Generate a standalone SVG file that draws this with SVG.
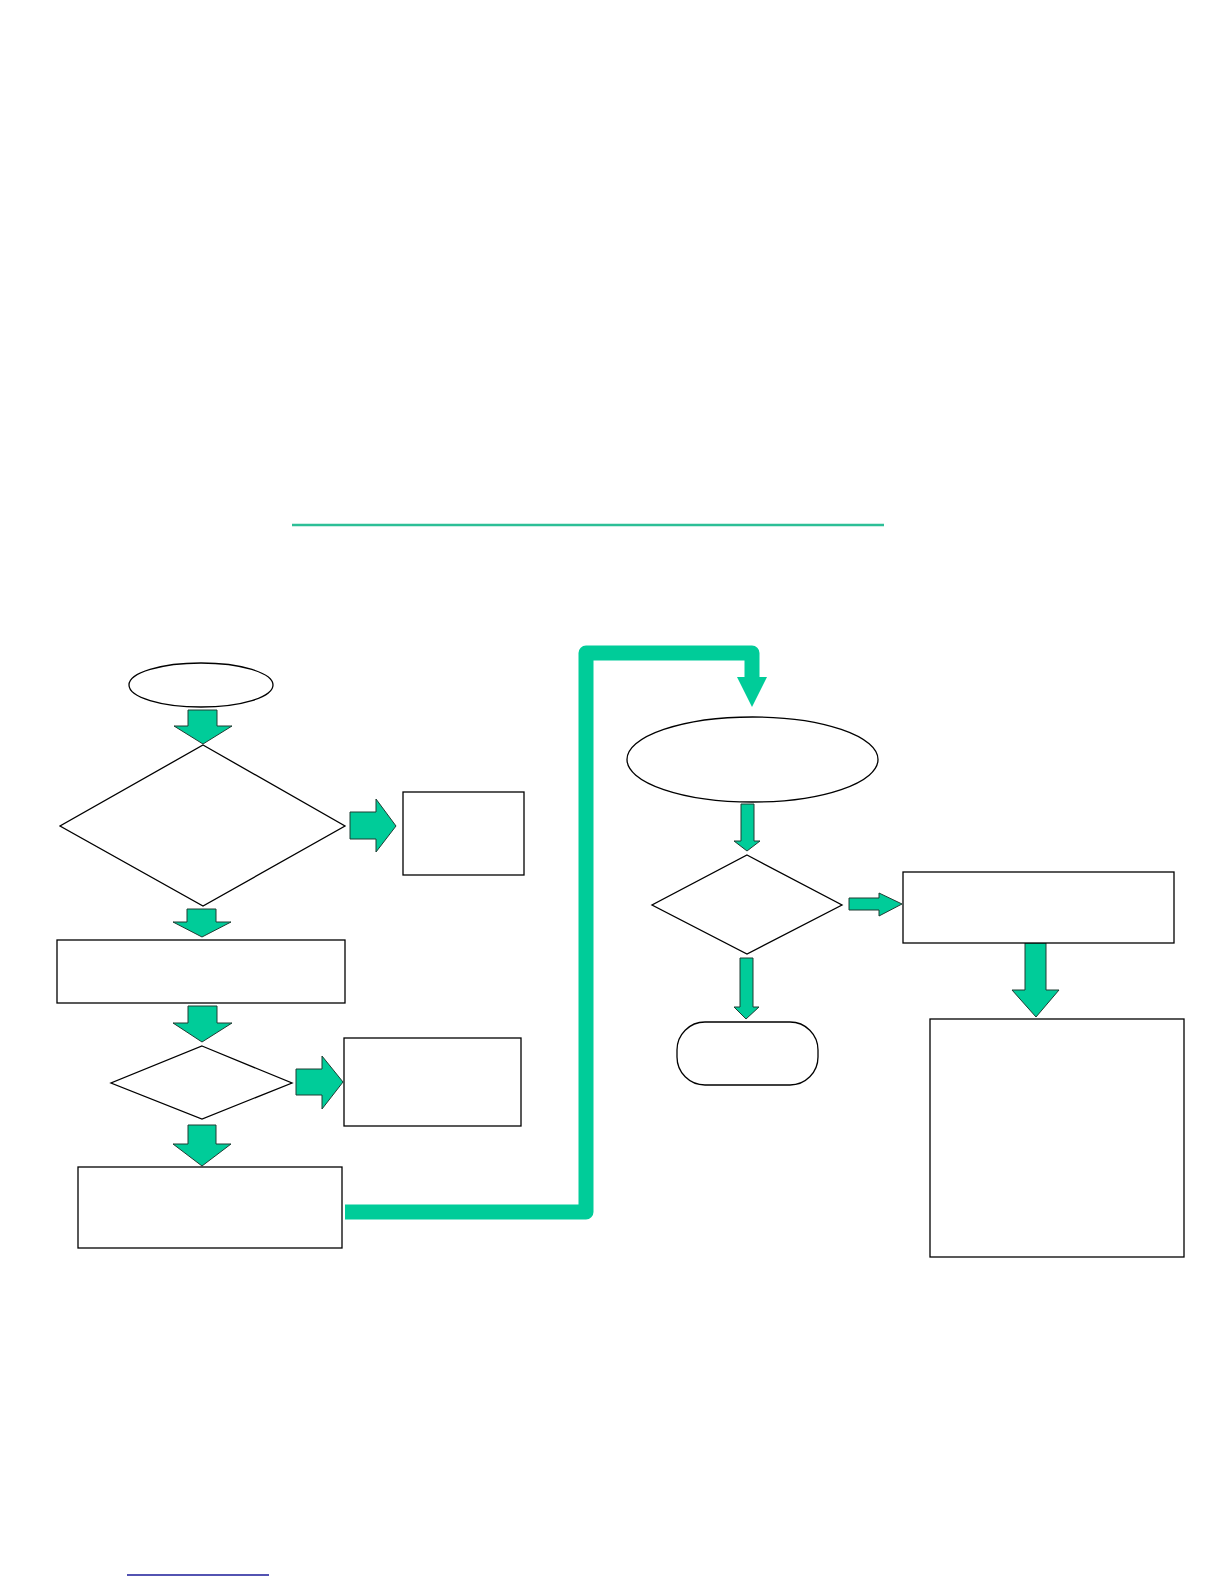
<svg xmlns="http://www.w3.org/2000/svg" width="1224" height="1584" viewBox="0 0 1224 1584">
<style>
.n{fill:#fff;stroke:#000;stroke-width:1.3}
.a{fill:#00cc99;stroke:#1f3d33;stroke-width:1}
.flow{fill:none;stroke:#00cc99;stroke-width:15;stroke-linejoin:round}
</style>
<rect width="1224" height="1584" fill="#fff"/>
<line x1="292" y1="525" x2="884" y2="525" stroke="#2dbf97" stroke-width="2.5"/>
<line x1="127" y1="1575" x2="269" y2="1575" stroke="#1a1a99" stroke-width="1.3"/>
<g id="connectors">
<path class="flow" d="M345 1212 H586 V653 H752 V678"/>
<polygon points="737,677 767,677 752,707" fill="#00cc99"/>
<polygon class="a" points="188,710 217,710 217,726 232,726 203,744 174,726 188,726"/>
<polygon class="a" points="187,909 216,909 216,922 231,922 202,937 173,922 187,922"/>
<polygon class="a" points="188,1006 217,1006 217,1023 232,1023 202,1042 173,1023 188,1023"/>
<polygon class="a" points="188,1125 216,1125 216,1144 231,1144 202,1166 173,1144 188,1144"/>
<polygon class="a" points="350,812 376,812 376,799 396,826 376,852 376,839 350,839"/>
<polygon class="a" points="296,1069 322,1069 322,1056 343,1082 322,1109 322,1095 296,1095"/>
<polygon class="a" points="741,804 754,804 754,841 760,841 747,851 734,841 741,841"/>
<polygon class="a" points="740,958 753,958 753,1007 759,1007 746,1019 734,1007 740,1007"/>
<polygon class="a" points="849,898 879,898 879,893 902,904 879,916 879,910 849,910"/>
<polygon class="a" points="1025,943 1046,943 1046,990 1059,990 1036,1017 1012,990 1025,990"/>
</g>
<g id="start"><ellipse class="n" cx="201" cy="685" rx="72" ry="22" stroke-width="1.6"/></g>
<g id="decision1"><polygon class="n" points="203,745 345,826 203,906 60,826"/></g>
<g id="box1"><rect class="n" x="403" y="792" width="121" height="83"/></g>
<g id="box2"><rect class="n" x="57" y="940" width="288" height="63"/></g>
<g id="decision2"><polygon class="n" points="202,1046 292,1083 202,1119 111,1083"/></g>
<g id="box3"><rect class="n" x="344" y="1038" width="177" height="88"/></g>
<g id="box4"><rect class="n" x="78" y="1167" width="264" height="81"/></g>
<g id="ellipse2"><ellipse class="n" cx="752.5" cy="759.5" rx="125.5" ry="42.5"/></g>
<g id="decision3"><polygon class="n" points="747,855 842,905 747,954 652,905"/></g>
<g id="terminal"><rect class="n" x="677" y="1022" width="141" height="63" rx="28" ry="28"/></g>
<g id="box5"><rect class="n" x="903" y="872" width="271" height="71"/></g>
<g id="box6"><rect class="n" x="930" y="1019" width="254" height="238"/></g>
</svg>
